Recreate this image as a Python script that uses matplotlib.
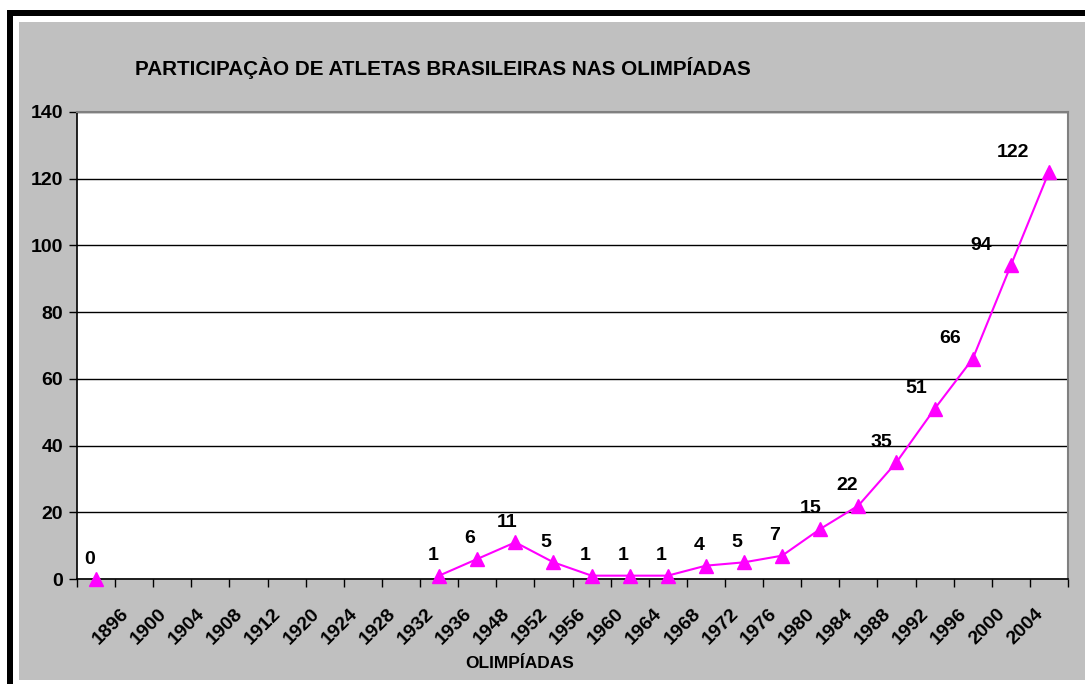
import numpy as np
import matplotlib
matplotlib.use('Agg')
import matplotlib.pyplot as plt
from matplotlib import patches

plt.rcParams['font.family'] = ['Liberation Sans', 'DejaVu Sans']
plt.rcParams['font.weight'] = 'bold'

# category labels (first category has no label)
years = ['', '1896', '1900', '1904', '1908', '1912', '1920', '1924', '1928',
         '1932', '1936', '1948', '1952', '1956', '1960', '1964', '1968',
         '1972', '1976', '1980', '1984', '1988', '1992', '1996', '2000', '2004']
# athletes per games (nan = no point)
athletes = [0, np.nan, np.nan, np.nan, np.nan, np.nan, np.nan, np.nan, np.nan,
            1, 6, 11, 5, 1, 1, 1, 4, 5, 7, 15, 22, 35, 51, 66, 94, 122]

W, H = 1085, 684
fig = plt.figure(figsize=(W / 100, H / 100), dpi=100)
fig.patch.set_facecolor('white')
PX = 72 / fig.dpi  # points per pixel

# gray chart area and black frame
fig.add_artist(patches.Rectangle((19 / W, 1 - 680 / H), 1 - 19 / W, (680 - 22) / H,
                                 transform=fig.transFigure, facecolor='#c0c0c0',
                                 edgecolor='none', zorder=0))
fig.add_artist(patches.Rectangle((7 / W, 0), 6 / W, 1 - 10 / H,
                                 transform=fig.transFigure, facecolor='black',
                                 edgecolor='none', zorder=0))
fig.add_artist(patches.Rectangle((7 / W, 1 - 16 / H), 1 - 7 / W, 6 / H,
                                 transform=fig.transFigure, facecolor='black',
                                 edgecolor='none', zorder=0))

ax = fig.add_axes([77 / W, 1 - 579 / H, (1068 - 77) / W, (579 - 112) / H])
ax.set_facecolor('white')

x = np.arange(len(years))
y = np.array(athletes, dtype=float)
# nan values break the line, so the lone 0 stays unconnected
ax.plot(x, y, color='#ff00ff', lw=1.5, marker='^', ms=10,
        markeredgecolor='#ff00ff', zorder=3, clip_on=False)

for xi, yi in zip(x, y):
    if np.isnan(yi):
        continue
    dx = -(6 + 0.25 * yi)
    ax.annotate(f'{int(yi)}', (xi, yi), xytext=(dx * PX, 20 * PX),
                textcoords='offset points', ha='center', va='center',
                fontsize=14, fontweight='bold')

ax.set_xlim(-0.5, len(years) - 0.5)
ax.set_ylim(0, 140)
ax.set_yticks(np.arange(0, 141, 20))
ax.yaxis.grid(True, color='black', lw=1)
ax.set_axisbelow(True)

# rotated labels sit a little left of each category centre (Excel style)
ax.set_xticks(x - 0.37)
ax.set_xticklabels(years, rotation=45, ha='right', va='top',
                   rotation_mode='anchor', fontsize=14, fontweight='bold')
ax.set_xticks(np.arange(-0.5, len(years), 1), minor=True)
ax.tick_params(axis='x', which='major', length=0, pad=26 * PX)
ax.tick_params(axis='x', which='minor', length=6, width=1, color='black')
ax.tick_params(axis='y', length=6, width=1, labelsize=14, pad=4)
for lbl in ax.get_yticklabels():
    lbl.set_fontweight('bold')

for side in ['left', 'bottom']:
    ax.spines[side].set_color('black')
    ax.spines[side].set_linewidth(1.2)
for side in ['top', 'right']:
    ax.spines[side].set_color('#808080')
    ax.spines[side].set_linewidth(1.5)

fig.text(443 / W, 1 - 68 / H, 'PARTICIPAÇÀO DE ATLETAS BRASILEIRAS NAS OLIMPÍADAS',
         ha='center', va='center', fontsize=14.9, fontweight='bold')
fig.text(520 / W, 1 - 663 / H, 'OLIMPÍADAS', ha='center', va='center',
         fontsize=12.5, fontweight='bold')

fig.savefig('out.png', dpi=100)
